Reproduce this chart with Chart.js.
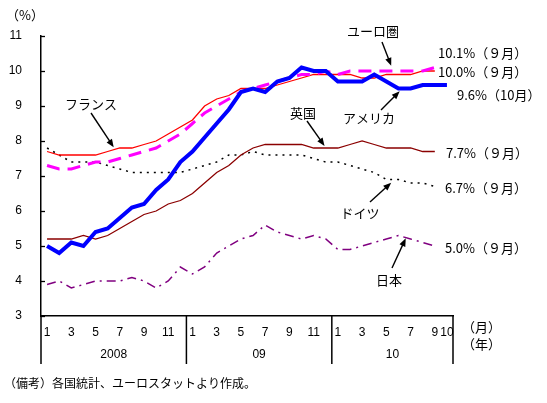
<!DOCTYPE html>
<html><head><meta charset="utf-8">
<script src="https://cdn.jsdelivr.net/npm/chart.js@4.4.0/dist/chart.umd.min.js"></script>
<style>html,body{margin:0;padding:0;background:#fff;}canvas{display:block;}</style>
</head><body>
<canvas id="c" width="547" height="403"></canvas>
<script>
// ---- data ----
const monthCats = ['1','2','3','4','5','6','7','8','9','10','11','12',
                   '1','2','3','4','5','6','7','8','9','10','11','12',
                   '1','2','3','4','5','6','7','8','9','10'];
const monthTickLabels = ['1','','3','','5','','7','','9','','11','',
                         '1','','3','','5','','7','','9','','11','',
                         '1','','3','','5','','7','','9','10'];
const yearLabels = ['2008','09','10'];
const yearStartIdx = [0,12,24];
const yearEndIdx = [11,23,33];
const yTicks = [3,4,5,6,7,8,9,10,11];

const euroArea = [7.3,7.2,7.2,7.3,7.4,7.4,7.5,7.6,7.7,7.8,8.0,8.2,
                  8.5,8.8,9.0,9.2,9.4,9.5,9.6,9.7,9.8,9.9,9.9,10.0,
                  9.9,10.0,10.0,10.0,10.0,10.0,10.0,10.0,10.1];
const france   = [7.7,7.6,7.6,7.6,7.6,7.7,7.8,7.8,7.9,8.0,8.2,8.4,
                  8.6,9.0,9.2,9.3,9.5,9.5,9.5,9.6,9.7,9.8,9.9,9.9,
                  9.9,9.9,9.8,9.8,9.9,9.9,9.9,10.0,10.0];
const usa      = [5.0,4.8,5.1,5.0,5.4,5.5,5.8,6.1,6.2,6.6,6.9,7.4,
                  7.7,8.1,8.5,8.9,9.4,9.5,9.4,9.7,9.8,10.1,10.0,10.0,
                  9.7,9.7,9.7,9.9,9.7,9.5,9.5,9.6,9.6,9.6];
const uk       = [5.2,5.2,5.2,5.3,5.2,5.3,5.5,5.7,5.9,6.0,6.2,6.3,
                  6.5,6.8,7.1,7.3,7.6,7.8,7.9,7.9,7.9,7.9,7.8,7.8,
                  7.8,7.9,8.0,7.9,7.8,7.8,7.8,7.7,7.7];
const germany  = [7.8,7.6,7.4,7.4,7.4,7.3,7.2,7.1,7.1,7.1,7.1,7.1,
                  7.2,7.3,7.4,7.6,7.6,7.7,7.6,7.6,7.6,7.6,7.5,7.4,
                  7.4,7.3,7.2,7.1,6.9,6.9,6.8,6.8,6.7];
const japan    = [3.9,4.0,3.8,3.9,4.0,4.0,4.0,4.1,4.0,3.8,4.0,4.4,
                  4.2,4.4,4.8,5.0,5.2,5.3,5.6,5.4,5.3,5.2,5.3,5.2,
                  4.9,4.9,5.0,5.1,5.2,5.3,5.2,5.1,5.0];

const endLabels = [
  {text:'10.1%（９月）', x:438, y:53},
  {text:'10.0%（９月）', x:438, y:72},
  {text:'9.6%（10月）',  x:457, y:95},
  {text:'7.7%（９月）',  x:446, y:153},
  {text:'6.7%（９月）',  x:445, y:188},
  {text:'5.0%（９月）',  x:445, y:248}
];
// name label (text position) and arrow: from pixel start to a point given in data coords
const callouts = [
  {text:'フランス', tx:91,  ty:104, sx:91,  sy:113, ti:5.5,  tv:7.82},
  {text:'ユーロ圏', tx:373, ty:31,  sx:382, sy:42,  ti:28.4, tv:10.15},
  {text:'英国',     tx:303, ty:113, sx:307, sy:121, ti:22.9, tv:7.86},
  {text:'アメリカ', tx:369, ty:118, sx:381, sy:110, ti:29.1, tv:9.42},
  {text:'ドイツ',   tx:360, ty:213, sx:370, sy:202, ti:28.4, tv:6.81},
  {text:'日本',     tx:389, ty:280, sx:392, sy:268, ti:29.6, tv:5.22}
];

const JP = '"Noto Sans CJK JP", sans-serif';
const NUM = '"Liberation Sans", Arial, sans-serif';

function arrow(ctx, x1, y1, x2, y2) {
  const ang = Math.atan2(y2 - y1, x2 - x1);
  const hl = 8, hw = 3.2;
  ctx.beginPath();
  ctx.moveTo(x1, y1);
  ctx.lineTo(x2 - Math.cos(ang) * hl * 0.8, y2 - Math.sin(ang) * hl * 0.8);
  ctx.stroke();
  ctx.beginPath();
  ctx.moveTo(x2, y2);
  ctx.lineTo(x2 - Math.cos(ang) * hl - Math.sin(ang) * hw, y2 - Math.sin(ang) * hl + Math.cos(ang) * hw);
  ctx.lineTo(x2 - Math.cos(ang) * hl + Math.sin(ang) * hw, y2 - Math.sin(ang) * hl - Math.cos(ang) * hw);
  ctx.closePath();
  ctx.fill();
}

const decor = {
  id: 'decor',
  afterDraw(chart) {
    const ctx = chart.ctx;
    const xs = chart.scales.x, ys = chart.scales.y;
    const ca = chart.chartArea;
    const step = xs.getPixelForValue(1) - xs.getPixelForValue(0);
    const px = i => xs.getPixelForValue(0) + i * step;
    ctx.save();
    ctx.strokeStyle = '#000';
    ctx.fillStyle = '#000';
    // inward y tick marks
    ctx.lineWidth = 1.3;
    yTicks.forEach(v => {
      const y = Math.round(ys.getPixelForValue(v)) + 0.5;
      ctx.beginPath(); ctx.moveTo(ca.left, y); ctx.lineTo(ca.left + 4, y); ctx.stroke();
    });
    // year separators
    ctx.lineWidth = 1.5;
    const seps = [ca.left];
    yearEndIdx.forEach((e, k) => { seps.push(k === yearEndIdx.length - 1 ? ca.right : px(e + 0.5)); });
    seps.forEach(x => {
      ctx.beginPath(); ctx.moveTo(x, ca.bottom); ctx.lineTo(x, ca.bottom + 48); ctx.stroke();
    });
    // year labels
    ctx.font = '12px ' + NUM;
    ctx.textAlign = 'center'; ctx.textBaseline = 'middle';
    yearLabels.forEach((t, k) => {
      const a = k === 0 ? ca.left : px(yearStartIdx[k] - 0.5);
      const b = k === yearLabels.length - 1 ? ca.right : px(yearEndIdx[k] + 0.5);
      ctx.fillText(t, (a + b) / 2, ca.bottom + 39);
    });
    // unit labels
    ctx.font = '13px ' + JP;
    ctx.textAlign = 'left';
    ctx.fillText('（%）', 6, 15);
    ctx.fillText('（月）', 462, 327);
    ctx.fillText('（年）', 462, 344);
    // end value labels
    endLabels.forEach(l => ctx.fillText(l.text, l.x, l.y));
    // callouts
    ctx.textAlign = 'center';
    ctx.lineWidth = 1.4;
    callouts.forEach(c => {
      ctx.fillText(c.text, c.tx, c.ty);
      arrow(ctx, c.sx, c.sy, px(c.ti), ys.getPixelForValue(c.tv));
    });
    // source note
    ctx.textAlign = 'left';
    ctx.font = '12px ' + JP;
    ctx.fillText('（備考）各国統計、ユーロスタットより作成。', 4, 383);
    ctx.restore();
  }
};

new Chart(document.getElementById('c'), {
  type: 'line',
  data: {
    labels: monthCats,
    datasets: [
      {label:'アメリカ', data: usa, borderColor:'#0000FF', borderWidth:4, order:0},
      {label:'ユーロ圏', data: euroArea, borderColor:'#FF00FF', borderWidth:3, borderDash:[13,8], order:1},
      {label:'フランス', data: france, borderColor:'#FF0000', borderWidth:1.3, order:2},
      {label:'英国', data: uk, borderColor:'#8B0000', borderWidth:1.3, order:3},
      {label:'ドイツ', data: germany, borderColor:'#000000', borderWidth:1.5, borderDash:[2,5], order:4},
      {label:'日本', data: japan, borderColor:'#800080', borderWidth:1.5, borderDash:[9,5,2,5], order:5}
    ]
  },
  options: {
    responsive: false,
    animation: false,
    events: [],
    layout: {padding: {top: 36, right: 94, left: 0, bottom: 0}},
    elements: {point: {radius: 0}, line: {tension: 0, fill: false}},
    plugins: {legend: {display: false}, tooltip: {enabled: false}},
    scales: {
      x: {
        type: 'category',
        offset: true,
        grid: {display: false, drawTicks: false},
        border: {display: true, color: '#000', width: 1.5},
        ticks: {
          autoSkip: false, maxRotation: 0, minRotation: 0, padding: 9,
          color: '#000', font: {family: NUM, size: 12},
          callback: (v, i) => monthTickLabels[i]
        },
        afterFit: s => { s.height = 87; }
      },
      y: {
        min: 3, max: 11,
        grid: {display: false, drawTicks: false},
        border: {display: true, color: '#000', width: 1.5},
        ticks: {stepSize: 1, padding: 19, color: '#000', font: {family: NUM, size: 12}},
        afterFit: s => { s.width = 41; }
      }
    }
  },
  plugins: [decor]
});
</script>
</body></html>
